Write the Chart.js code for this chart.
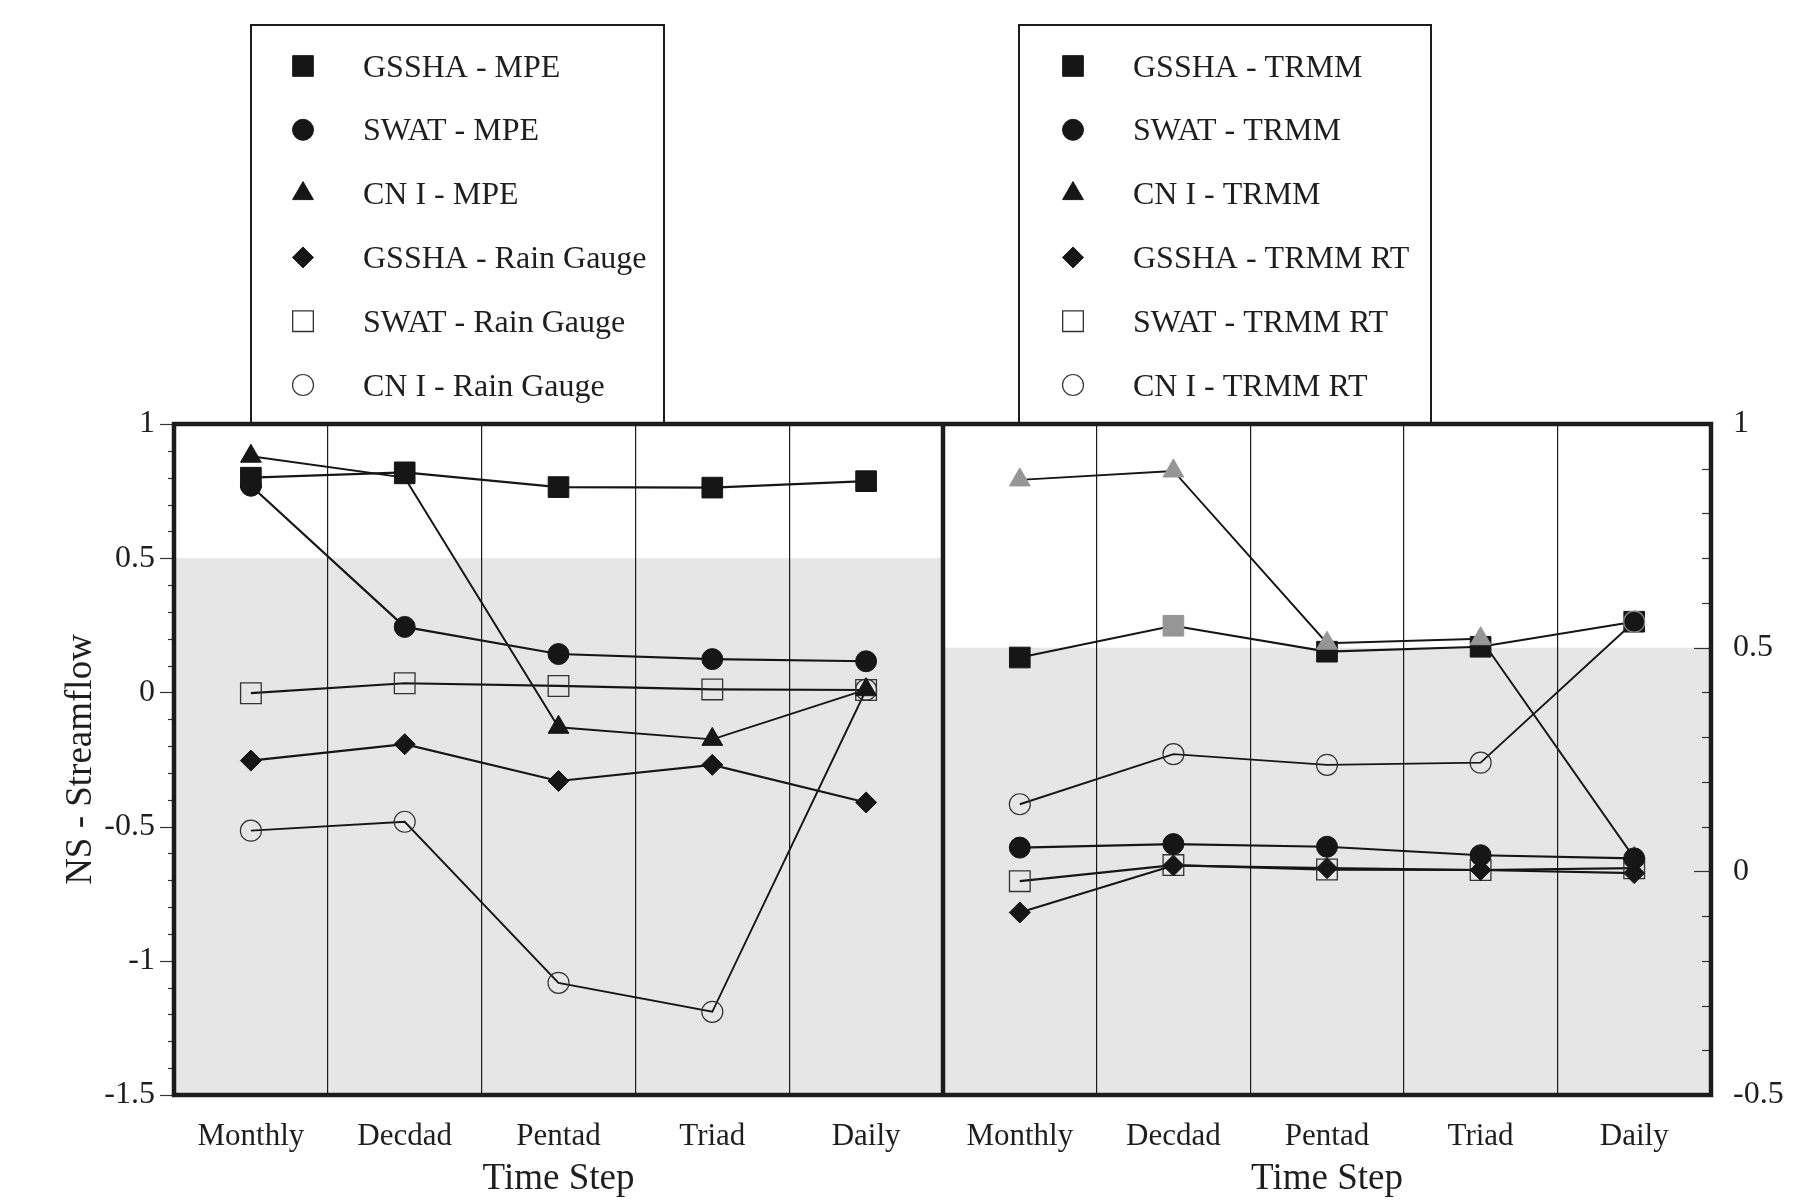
<!DOCTYPE html>
<html><head><meta charset="utf-8">
<script src="https://cdn.jsdelivr.net/npm/chart.js@4.4.1/dist/chart.umd.min.js"></script>
<style>
html,body{margin:0;padding:0;background:#fff;}
#wrap{position:relative;width:1795px;height:1200px;overflow:hidden;background:#fff;}
#c1{position:absolute;left:0;top:0;}
#c2{position:absolute;left:943px;top:0;}
</style></head><body>
<div id="wrap"><canvas id="c1" width="943" height="1200"></canvas><canvas id="c2" width="852" height="1200"></canvas></div>
<script>
// ---------- DATA ----------
const categories = ['Monthly', 'Decdad', 'Pentad', 'Triad', 'Daily'];
const leftTickValues = [1, 0.5, 0, -0.5, -1, -1.5];
const leftTickLabels = ['1', '0.5', '0', '-0.5', '-1', '-1.5'];
const rightTickValues = [1, 0.5, 0, -0.5];
const rightTickLabels = ['1', '0.5', '0', '-0.5'];

// Left panel (left axis)
const gsshaMPE   = [0.80, 0.82, 0.765, 0.763, 0.787];
const swatMPE    = [0.77, 0.244, 0.143, 0.124, 0.116];
const cniMPE     = [0.88, 0.80, -0.13, -0.175, 0.01];
const gsshaRG    = [-0.254, -0.193, -0.33, -0.27, -0.41];
const swatRG     = [-0.003, 0.034, 0.024, 0.011, 0.009];
const cniRG      = [-0.515, -0.482, -1.082, -1.19, 0.01];

// Right panel (right axis)
const gsshaTRMM   = [0.478, 0.549, 0.491, 0.502, 0.558];
const swatTRMM    = [0.053, 0.061, 0.055, 0.036, 0.029];
const cniTRMM     = [0.875, 0.895, 0.51, 0.52, 0.03];
const gsshaTRMMRT = [-0.092, 0.013, 0.007, 0.003, -0.004];
const swatTRMMRT  = [-0.022, 0.014, 0.004, 0.003, 0.007];
const cniTRMMRT   = [0.150, 0.262, 0.238, 0.243, 0.558];

const leftNames  = ['GSSHA - MPE', 'SWAT - MPE', 'CN I - MPE', 'GSSHA - Rain Gauge', 'SWAT - Rain Gauge', 'CN I - Rain Gauge'];
const rightNames = ['GSSHA - TRMM', 'SWAT - TRMM', 'CN I - TRMM', 'GSSHA - TRMM RT', 'SWAT - TRMM RT', 'CN I - TRMM RT'];

// ---------- STYLES ----------
const INK = '#161616';
const GRAY = '#969696';
const FONT = "'Liberation Serif', 'Times New Roman', serif";
const M = {
  fSquare:  {pointStyle: 'rect',     radius: 14.6, fill: INK, border: INK, bw: 1},
  fCircle:  {pointStyle: 'circle',   radius: 10.5, fill: INK, border: INK, bw: 1},
  fTri:     {pointStyle: 'triangle', radius: 12,   fill: INK, border: INK, bw: 1},
  fDiamond: {pointStyle: 'rectRot',  radius: 10.5, fill: INK, border: INK, bw: 1},
  oSquare:  {pointStyle: 'rect',     radius: 14.6, fill: 'rgba(0,0,0,0)', border: '#333', bw: 1.3},
  oCircle:  {pointStyle: 'circle',   radius: 10.5, fill: 'rgba(0,0,0,0)', border: '#333', bw: 1.2}
};
const legendMarkers = [M.fSquare, M.fCircle, M.fTri, M.fDiamond, M.oSquare, M.oCircle];

function ds(label, data, m, order, lw, opts) {
  opts = opts || {};
  return {
    label, data, order,
    borderColor: INK, borderWidth: lw, tension: 0, fill: false,
    pointStyle: m.pointStyle, pointRadius: m.radius, pointHoverRadius: m.radius,
    pointBackgroundColor: opts.bg || m.fill,
    pointBorderColor: opts.bc || m.border,
    pointBorderWidth: m.bw
  };
}

function drawMarker(ctx, m, x, y) {
  const r = m.radius;
  ctx.save();
  ctx.beginPath();
  if (m.pointStyle === 'rect') { const s = Math.SQRT1_2 * r; ctx.rect(x - s, y - s, 2 * s, 2 * s); }
  else if (m.pointStyle === 'circle') { ctx.arc(x, y, r, 0, Math.PI * 2); }
  else if (m.pointStyle === 'triangle') { ctx.moveTo(x, y - r); ctx.lineTo(x + 0.866 * r, y + 0.5 * r); ctx.lineTo(x - 0.866 * r, y + 0.5 * r); ctx.closePath(); }
  else if (m.pointStyle === 'rectRot') { ctx.moveTo(x, y - r); ctx.lineTo(x + r, y); ctx.lineTo(x, y + r); ctx.lineTo(x - r, y); ctx.closePath(); }
  ctx.fillStyle = m.fill; ctx.fill();
  ctx.lineWidth = m.bw; ctx.strokeStyle = m.border; ctx.stroke();
  ctx.restore();
}

function panelPlugin(cfg) {
  return {
    id: 'panel' + cfg.side,
    beforeDraw(chart) {
      const {ctx, chartArea: a} = chart;
      const y = chart.scales.y;
      const p = y.getPixelForValue(0.5);
      ctx.save();
      ctx.fillStyle = '#e6e6e6';
      ctx.fillRect(a.left, p, a.right - a.left, a.bottom - p);
      ctx.restore();
    },
    afterDraw(chart) {
      const {ctx, chartArea: a} = chart;
      const y = chart.scales.y;
      ctx.save();
      ctx.strokeStyle = '#333';
      ctx.lineWidth = 1.2;
      const lo = Math.round(y.min * 10), hi = Math.round(y.max * 10);
      for (let k = lo; k <= hi; k++) {
        const v = k / 10;
        const p = Math.round(y.getPixelForValue(v)) + 0.5;
        const major = (k % 5 === 0);
        ctx.beginPath();
        if (cfg.side === 'left') {
          const len = major ? 14 : 6;
          ctx.moveTo(a.left - len, p); ctx.lineTo(a.left, p);
        } else {
          const len = major ? 17 : 9;
          ctx.moveTo(a.right - len, p); ctx.lineTo(a.right, p);
        }
        ctx.stroke();
      }
      const lb = cfg.legend;
      ctx.strokeStyle = '#1c1c1c';
      ctx.lineWidth = 2;
      ctx.strokeRect(lb.x0, 25, lb.x1 - lb.x0, a.top - 25);
      ctx.fillStyle = '#1e1e1e';
      ctx.font = '32px ' + FONT;
      ctx.textAlign = 'left';
      ctx.textBaseline = 'alphabetic';
      lb.names.forEach((name, i) => {
        const ry = 66 + i * 63.8;
        drawMarker(ctx, legendMarkers[i], lb.mx, ry);
        ctx.fillText(name, lb.tx, ry + 10.5);
      });
      ctx.strokeStyle = '#1c1c1c';
      ctx.lineWidth = 4.5;
      ctx.strokeRect(a.left, a.top, a.right - a.left, a.bottom - a.top);
      ctx.restore();
    }
  };
}

function xAxis() {
  return {
    type: 'category',
    offset: true,
    grid: {display: true, offset: true, drawOnChartArea: true, drawTicks: false, color: '#1c1c1c', lineWidth: 1.2},
    border: {display: false},
    ticks: {color: '#1e1e1e', font: {family: FONT, size: 31}, padding: 23, maxRotation: 0, autoSkip: false},
    title: {display: true, text: 'Time Step', color: '#1e1e1e', font: {family: FONT, size: 37, lineHeight: 1.1}, padding: {top: 0, bottom: 0}},
    afterFit(s) { s.height = 105; s.paddingLeft = 0; s.paddingRight = 0; }
  };
}

Chart.defaults.font.family = FONT;

// ---------- LEFT CHART ----------
new Chart(document.getElementById('c1'), {
  type: 'line',
  data: {
    labels: categories,
    datasets: [
      ds(leftNames[0], gsshaMPE, M.fSquare, 0, 2.2),
      ds(leftNames[1], swatMPE, M.fCircle, 1, 2.2),
      ds(leftNames[2], cniMPE, M.fTri, 2, 1.9),
      ds(leftNames[3], gsshaRG, M.fDiamond, 4, 2.2),
      ds(leftNames[4], swatRG, M.oSquare, 3, 2.2),
      ds(leftNames[5], cniRG, M.oCircle, 5, 1.9)
    ]
  },
  options: {
    responsive: false, animation: false, devicePixelRatio: 1,
    layout: {autoPadding: false, padding: {top: 424, left: 0, right: 0, bottom: 0}},
    plugins: {legend: {display: false}, tooltip: {enabled: false}},
    scales: {
      x: xAxis(),
      y: {
        type: 'linear', position: 'left', min: -1.5, max: 1,
        grid: {display: false, drawTicks: false},
        border: {display: false},
        afterBuildTicks(s) { s.ticks = leftTickValues.map(v => ({value: v})); },
        ticks: {color: '#1e1e1e', font: {family: FONT, size: 32}, padding: 19,
                callback: (v) => leftTickLabels[leftTickValues.indexOf(v)] ?? ''},
        title: {display: true, text: 'NS - Streamflow', color: '#1e1e1e', font: {family: FONT, size: 37, lineHeight: 1.2}, padding: {top: 59, bottom: 0}},
        afterFit(s) { s.width = 174; s.paddingTop = 0; s.paddingBottom = 0; }
      }
    }
  },
  plugins: [panelPlugin({side: 'left', legend: {x0: 251, x1: 664, mx: 303, tx: 363, names: leftNames}})]
});

// ---------- RIGHT CHART ----------
const gsshaTRMMColors = gsshaTRMM.map((v, i) => i === 1 ? GRAY : INK);
const cniTRMMRTFill = cniTRMMRT.map((v, i) => i === 4 ? INK : 'rgba(0,0,0,0)');
const cniTRMMRTBorder = cniTRMMRT.map((v, i) => i === 4 ? '#8a8a8a' : '#333');
new Chart(document.getElementById('c2'), {
  type: 'line',
  data: {
    labels: categories,
    datasets: [
      ds(rightNames[0], gsshaTRMM, M.fSquare, 5, 2.2, {bg: gsshaTRMMColors, bc: gsshaTRMMColors}),
      ds(rightNames[1], swatTRMM, M.fCircle, 1, 2.2),
      ds(rightNames[2], cniTRMM, M.fTri, 4, 1.9, {bg: GRAY, bc: GRAY}),
      ds(rightNames[3], gsshaTRMMRT, M.fDiamond, 2, 2.2),
      ds(rightNames[4], swatTRMMRT, M.oSquare, 3, 2.2),
      ds(rightNames[5], cniTRMMRT, M.oCircle, 0, 1.9, {bg: cniTRMMRTFill, bc: cniTRMMRTBorder})
    ]
  },
  options: {
    responsive: false, animation: false, devicePixelRatio: 1,
    layout: {autoPadding: false, padding: {top: 424, left: 0, right: 0, bottom: 0}},
    plugins: {legend: {display: false}, tooltip: {enabled: false}},
    scales: {
      x: xAxis(),
      y: {
        type: 'linear', position: 'right', min: -0.5, max: 1,
        grid: {display: false, drawTicks: false},
        border: {display: false},
        afterBuildTicks(s) { s.ticks = rightTickValues.map(v => ({value: v})); },
        ticks: {color: '#1e1e1e', font: {family: FONT, size: 32}, padding: 22,
                callback: (v) => rightTickLabels[rightTickValues.indexOf(v)] ?? ''},
        afterFit(s) { s.width = 84; s.paddingTop = 0; s.paddingBottom = 0; }
      }
    }
  },
  plugins: [panelPlugin({side: 'right', legend: {x0: 76, x1: 488, mx: 130, tx: 190, names: rightNames}})]
});
</script>
</body></html>
